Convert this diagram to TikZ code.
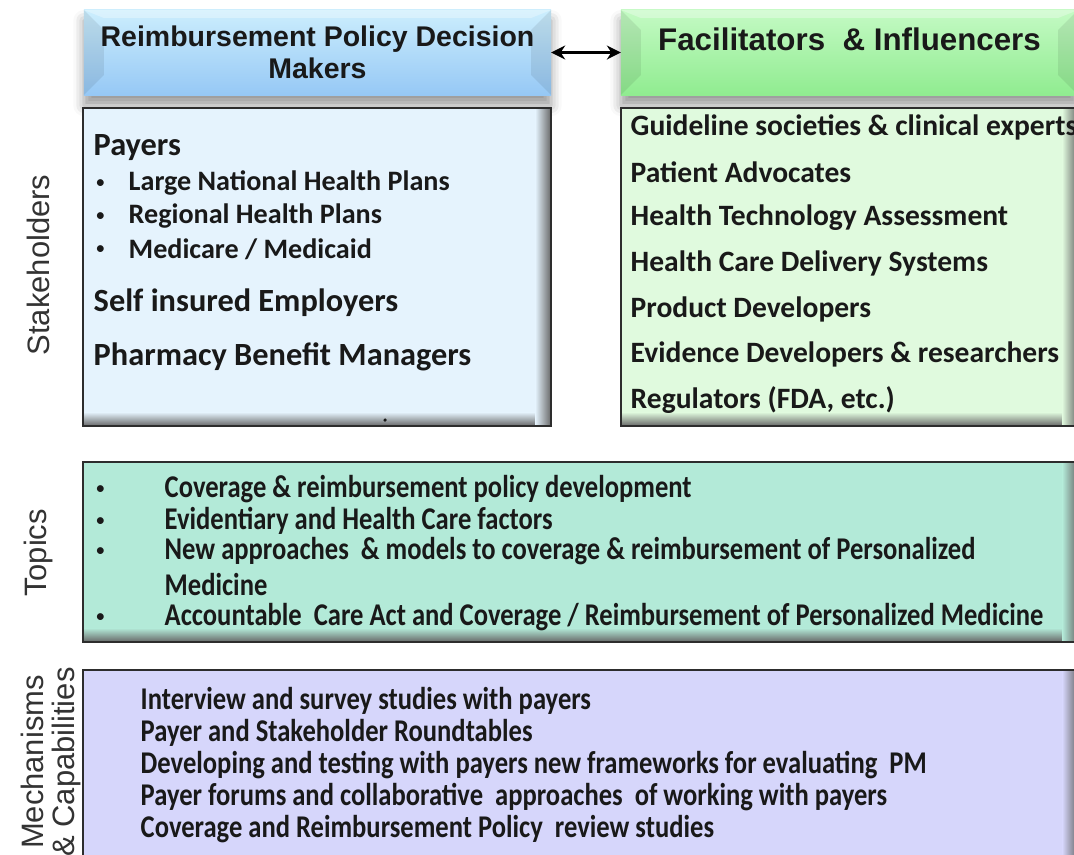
\documentclass[tikz,border=0pt]{standalone}
\usepackage{fontspec}
\setmainfont{Carlito}
\newfontfamily\arialfont{Liberation Sans}
\newfontfamily\condfont[FakeStretch=0.84]{Carlito}
\usetikzlibrary{positioning,calc,arrows.meta,shadows.blur}

\definecolor{hdrblueA}{RGB}{204,238,253}
\definecolor{hdrblueB}{RGB}{150,200,245}
\definecolor{hdrgreenA}{RGB}{196,250,196}
\definecolor{hdrgreenB}{RGB}{144,236,144}
\definecolor{stakefill}{RGB}{229,243,253}
\definecolor{facfill}{RGB}{224,250,222}
\definecolor{topicfill}{RGB}{179,234,216}
\definecolor{mechfill}{RGB}{214,214,251}
\definecolor{panelline}{RGB}{45,45,45}
\definecolor{inktext}{RGB}{25,25,25}

\tikzset{
  hdr/.style={minimum height=0.85cm, inner sep=0pt, outer sep=0pt, align=center,
    text=inktext, blur shadow={shadow xshift=0pt, shadow yshift=-3pt, shadow blur radius=3pt}},
  panel/.style={draw=panelline, line width=0.6pt, inner sep=0pt, outer sep=0pt},
  sidelabel/.style={rotate=90, align=center, text=black!80,
    font=\arialfont\fontsize{8.8}{8.6}\selectfont},
  head/.style={anchor=west, inner sep=0pt, text=inktext, font=\bfseries\fontsize{9.2}{10}\selectfont},
  item/.style={anchor=west, inner sep=0pt, text=inktext, font=\bfseries\fontsize{8}{10}\selectfont},
  cond/.style={anchor=west, inner sep=0pt, text=inktext, font=\condfont\bfseries\fontsize{9}{10}\selectfont},
  dot/.style={anchor=west, inner sep=0pt, text=inktext, font=\fontsize{5.5}{8}\selectfont},
}

\begin{document}
\begin{tikzpicture}[x=0.01cm, y=-0.01cm]
    \clip (0,0) rectangle (1074,854);

    % header boxes
    \node [hdr, minimum width=4.67cm, top color=hdrblueA, bottom color=hdrblueB,
      font=\arialfont\bfseries\fontsize{8.1}{9.2}\selectfont] (dm) at (317.5,52.5)
      {Reimbursement Policy Decision\\Makers};
    \node [hdr, minimum width=4.57cm, top color=hdrgreenA, bottom color=hdrgreenB,
      font=\arialfont\bfseries\fontsize{8.9}{10}\selectfont] (fi) at (849.5,52.5)
      {\raisebox{0.27cm}{Facilitators \ \& Influencers}};
    % bevel edges
    \foreach \h in {dm,fi} {
      \fill [black, opacity=0.08] (\h.north west) -- ($(\h.north west)+(20,20)$)
        -- ($(\h.south west)+(20,-20)$) -- (\h.south west) -- cycle;
      \fill [black, opacity=0.08] (\h.north east) -- ($(\h.north east)+(-20,20)$)
        -- ($(\h.south east)+(-20,-20)$) -- (\h.south east) -- cycle;
      \fill [white, opacity=0.3] (\h.north west) -- (\h.north east)
        -- ($(\h.north east)+(-20,8)$) -- ($(\h.north west)+(20,8)$) -- cycle;
    }
    \draw [{Stealth[length=4pt,width=4pt]}-{Stealth[length=4pt,width=4pt]}, line width=0.6pt] (dm.east) -- (fi.west);

    % panels
    \node [panel, fill=stakefill, minimum width=4.68cm, minimum height=3.18cm] (stake) at (317,267) {};
    \node [panel, fill=facfill, minimum width=4.57cm, minimum height=3.18cm] (fac) at (849.5,267) {};
    \node [panel, fill=topicfill, minimum width=9.95cm, minimum height=1.80cm] (topic) at (580.5,552) {};
    \node [panel, fill=mechfill, minimum width=9.95cm, minimum height=2.00cm] (mech) at (580.5,770) {};
    % inner shadow on right and bottom edges
    \foreach \p/\c in {stake/stakefill, fac/facfill, topic/topicfill, mech/mechfill} {
      \shade [top color=\c, bottom color=black!60] ($(\p.south west)+(0,-14)$) rectangle (\p.south east);
      \shade [left color=\c, right color=black!60] ($(\p.north east)+(-16,0)$) rectangle (\p.south east);
      \draw [panelline, line width=0.6pt] (\p.north west) rectangle (\p.south east);
    }

    % side labels
    \node [sidelabel] (lstake) at (38,265) {Stakeholders};
    \node [sidelabel] (ltopic) at (38,553) {Topics};
    \node [sidelabel] (lmech) at (51,762) {Mechanisms\\\& Capabilities};

    % decision makers
    \node [head] (payers) at (93,148) {Payers};
    \node [dot] (b1) at (95,184) {•};
    \node [item] (lnhp) at (128,183) {Large National Health Plans};
    \node [dot] (b2) at (95,217) {•};
    \node [item] (rhp) at (128,216) {Regional Health Plans};
    \node [dot] (b3) at (95,250) {•};
    \node [item] (mcare) at (128,249) {Medicare / Medicaid};
    \node [head] (selfins) at (93,303) {Self insured Employers};
    \node [head] (pbm) at (93,357) {Pharmacy Benefit Managers};
    \fill [inktext] (385,420) circle (0.5pt);

    % facilitators
    \foreach \t [count=\i] in {Guideline societies \& clinical experts, Patient Advocates,
        Health Technology Assessment, Health Care Delivery Systems, Product Developers,
        Evidence Developers \& researchers, {Regulators (FDA, etc.)}}
      \node [item, font=\bfseries\fontsize{8.4}{10}\selectfont] (fac\i) at (630,127+45.5*\i-45.5) {\t};

    % topics
    \node [dot] (tb1) at (95,490) {•};
    \node [cond] (t1) at (164,489) {Coverage \& reimbursement policy development};
    \node [dot] (tb2) at (95,522) {•};
    \node [cond] (t2) at (164,521) {Evidentiary and Health Care factors};
    \node [dot] (tb3) at (95,552) {•};
    \node [cond] (t3) at (164,551) {New approaches \ \& models to coverage \& reimbursement of Personalized};
    \node [cond] (t3b) at (164,584) {Medicine};
    \node [dot] (tb4) at (95,618) {•};
    \node [cond] (t4) at (164,617) {Accountable \ Care Act and Coverage / Reimbursement of Personalized Medicine};

    % mechanisms
    \foreach \t [count=\i] in {Interview and survey studies with payers, Payer and Stakeholder Roundtables,
        Developing and testing with payers new frameworks for evaluating \ PM,
        Payer forums and collaborative \ approaches \ of working with payers,
        Coverage and Reimbursement Policy \ review studies}
      \node [cond] (mech\i) at (140,701+32*\i-32) {\t};
\end{tikzpicture}
\end{document}
